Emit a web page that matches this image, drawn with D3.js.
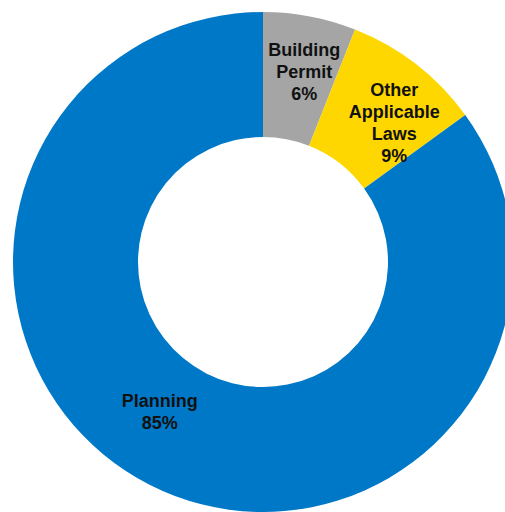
<!DOCTYPE html>
<html>
<head>
<meta charset="utf-8">
<script src="https://cdn.jsdelivr.net/npm/d3@7"></script>
<style>
  html, body { margin: 0; padding: 0; background: #fff; }
  svg { display: block; }
</style>
</head>
<body>
<div id="chart"></div>
<script>
// slice data, clockwise from 12 o'clock
const categories = ["Building Permit", "Other Applicable Laws", "Planning"];
const values = [6, 9, 85];
const labelLines = [["Building", "Permit"], ["Other", "Applicable", "Laws"], ["Planning"]];
const colors = ["#a5a5a5", "#ffd700", "#0078c8"];

const width = 505, height = 512;
const cx = 263, cy = 262;
const outerR = 250, innerR = 125;

const svg = d3.select("#chart")
  .append("svg")
  .attr("width", width)
  .attr("height", height);

const g = svg.append("g")
  .attr("transform", "translate(" + cx + "," + cy + ")");

const pie = d3.pie().sort(null).value(d => d.value);
const arc = d3.arc().innerRadius(innerR).outerRadius(outerR);

const data = categories.map((c, i) => ({ name: c, value: values[i], lines: labelLines[i], color: colors[i] }));
const arcs = pie(data);

g.selectAll("path")
  .data(arcs)
  .enter()
  .append("path")
  .attr("d", arc)
  .attr("fill", d => d.data.color);

// labels sit a bit off the plain centroid, like the source
const labelArc = d3.arc().innerRadius(188).outerRadius(188);
const nudge = { "Building Permit": [6, -5], "Other Applicable Laws": [16, 10], "Planning": [-18, -18] };
const lineH = 22;

const labels = g.selectAll("text.lbl")
  .data(arcs)
  .enter()
  .append("text")
  .attr("class", "lbl")
  .attr("text-anchor", "middle")
  .style("font-family", "'Liberation Sans', Arial, sans-serif")
  .style("font-weight", "bold")
  .style("font-size", "18px")
  .attr("fill", "#111")
  .attr("transform", d => {
    const c = labelArc.centroid(d);
    const n = nudge[d.data.name];
    return "translate(" + (c[0] + n[0]) + "," + (c[1] + n[1]) + ")";
  });

labels.each(function (d) {
  const lines = d.data.lines.concat([d.data.value + "%"]);
  const t = d3.select(this);
  const y0 = -((lines.length - 1) * lineH) / 2 + 6;
  lines.forEach((s, i) => {
    t.append("tspan")
      .attr("x", 0)
      .attr("y", y0 + i * lineH)
      .text(s);
  });
});
</script>
</body>
</html>
